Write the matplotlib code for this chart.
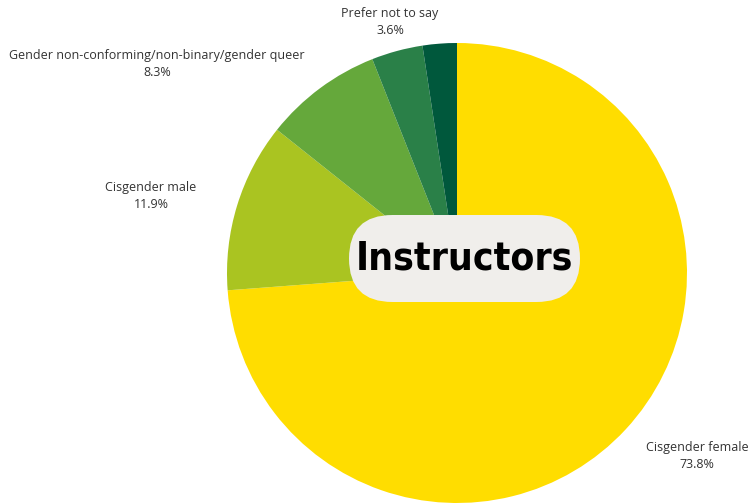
import matplotlib
matplotlib.use("Agg")
import matplotlib.pyplot as plt
from matplotlib.patches import FancyBboxPatch

categories = ["Cisgender female", "Cisgender male",
              "Gender non-conforming/non-binary/gender queer",
              "Prefer not to say", "Other"]
values = [73.8, 11.9, 8.3, 3.6, 2.4]
colors = ["#FFDD00", "#AAC421", "#65A83B", "#2A8048", "#00583C"]
show_label = [True, True, True, True, False]
title = "Instructors"

W, H = 750, 503
fig = plt.figure(figsize=(W / 100, H / 100), dpi=100)
ax = fig.add_axes([0, 0, 1, 1])

cx, cy, r = 457, H - 273, 230
ax.pie(values, colors=colors, startangle=90, counterclock=False,
       center=(cx, cy), radius=r, wedgeprops=dict(linewidth=0),
       frame=True)
ax.set_xlim(0, W)
ax.set_ylim(0, H)
ax.set_aspect("equal")
ax.axis("off")

label_pos = [(697, H - 456), (151, H - 196), (157, H - 64), (390, H - 22), None]
for cat, v, pos, show in zip(categories, values, label_pos, show_label):
    if not show:
        continue
    ax.text(pos[0], pos[1], f"{cat}\n{v}%", ha="center", va="center",
            fontsize=9, color="#333333", family=["Open Sans", "DejaVu Sans"],
            linespacing=1.4)

# title pill
px0, px1, py0, py1 = 349, 580, H - 302, H - 215
hh = py1 - py0
pill = FancyBboxPatch((px0, py0), px1 - px0, hh,
                      boxstyle=f"round,pad=0,rounding_size={hh/2}",
                      facecolor="#F0EEEB", edgecolor="none", zorder=5)
ax.add_patch(pill)
ax.text((px0 + px1) / 2, (py0 + py1) / 2, title, ha="center", va="center",
        fontsize=28, fontweight="bold", fontstretch="condensed", color="#000000",
        family=["DejaVu Sans"], zorder=6)

fig.savefig("out.png", dpi=100)
